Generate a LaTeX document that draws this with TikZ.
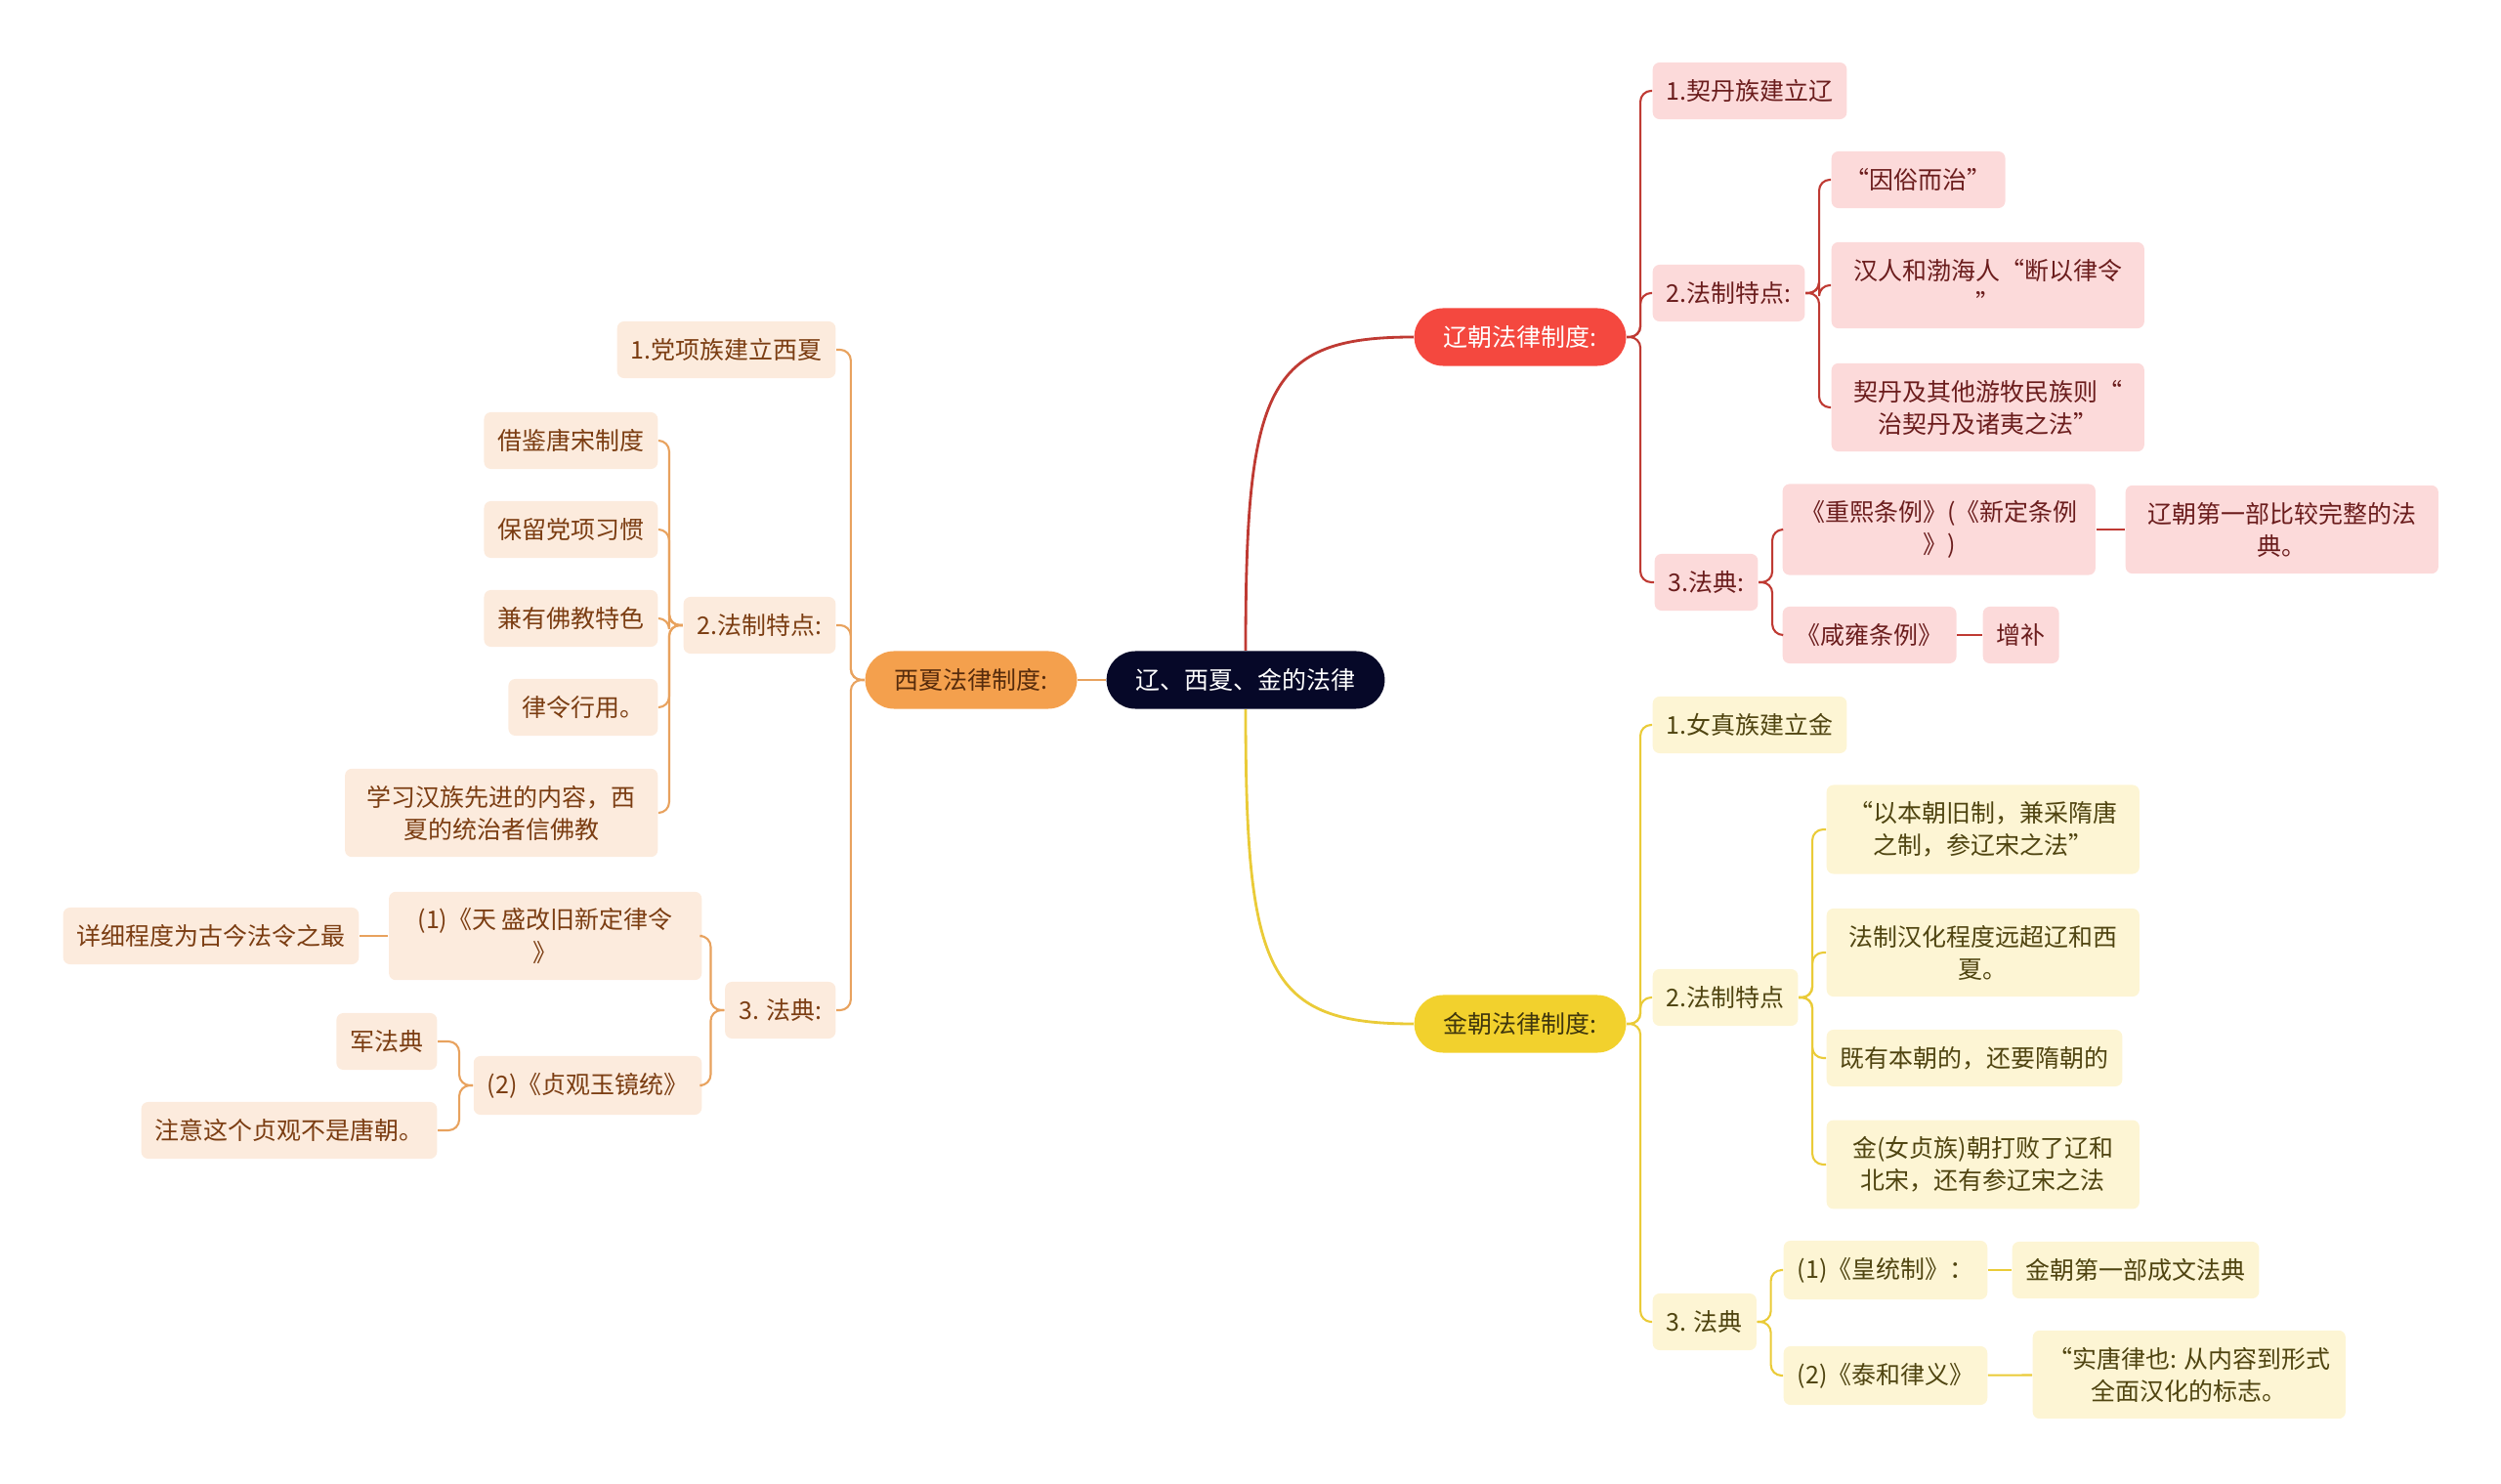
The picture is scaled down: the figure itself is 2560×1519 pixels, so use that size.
\documentclass[tikz,border=0pt]{standalone}
\usepackage{fontspec}
\usepackage{xcolor}
\usepackage{tikz}
\newfontfamily\cjk{Noto Sans CJK SC}
\definecolor{rootfill}{HTML}{060828}
\definecolor{liaomain}{HTML}{F4483F}
\definecolor{liaoline}{HTML}{BF3A33}
\definecolor{liaofill}{HTML}{FCDADA}
\definecolor{liaotext}{HTML}{6B1D1D}
\definecolor{jinmain}{HTML}{F2D12D}
\definecolor{jinline}{HTML}{EACB38}
\definecolor{jinfill}{HTML}{FDF5D4}
\definecolor{jintext}{HTML}{4F4410}
\definecolor{xiamain}{HTML}{F4A04D}
\definecolor{xialine}{HTML}{E8A25E}
\definecolor{xiafill}{HTML}{FCEBDD}
\definecolor{xiatext}{HTML}{7B3D12}

\begin{document}
\begin{tikzpicture}[x=0.01cm,y=-0.01cm,
  box/.style={font=\cjk\fontsize{7.1}{9.4}\selectfont,align=center,rounded corners=0.07cm,inner xsep=0.14cm,inner ysep=0.17cm,minimum height=0.58cm},
  wide/.style={minimum width=3.2cm},
  topic/.style={box,rounded corners=0.295cm,inner xsep=0.3cm,minimum height=0.59cm},
  liaobox/.style={box,fill=liaofill,text=liaotext,anchor=west},
  jinbox/.style={box,fill=jinfill,text=jintext,anchor=west},
  xiabox/.style={box,fill=xiafill,text=xiatext,anchor=east},
  liaowire/.style={draw=liaoline,line width=0.6pt,rounded corners=0.11cm},
  jinwire/.style={draw=jinline,line width=0.6pt,rounded corners=0.11cm},
  xiawire/.style={draw=xialine,line width=0.6pt,rounded corners=0.11cm},
  mainwire/.style={line width=0.8pt,rounded corners=0pt}]
\useasboundingbox (0,0) rectangle (2560,1519);
\def\stub{14}
\node[topic,fill=rootfill,text=white] (root) at (1275,696) {辽、西夏、金的法律};
\node[topic,fill=xiamain,text=xiatext!70!black] (xia) at (994,696) {西夏法律制度:};
\node[topic,fill=liaomain,text=white] (liao) at (1556,345) {辽朝法律制度:};
\node[topic,fill=jinmain,text=jintext!80!black] (jin) at (1556,1048) {金朝法律制度:};
% liao
\node[liaobox] (l1) at (1691,93) {1.契丹族建立辽};
\node[liaobox] (l2) at (1691,300) {2.法制特点:};
\node[liaobox] (l21) at (1874,184) {“因俗而治”};
\node[liaobox,wide] (l22) at (1874,292) {汉人和渤海人“断以律令\\”};
\node[liaobox,wide] (l23) at (1874,417) {契丹及其他游牧民族则“\\治契丹及诸夷之法”};
\node[liaobox] (l3) at (1693,596) {3.法典:};
\node[liaobox,wide] (l31) at (1824,542) {《重熙条例》(《新定条例\\》)};
\node[liaobox,wide] (l311) at (2175,542) {辽朝第一部比较完整的法\\典。};
\node[liaobox] (l32) at (1824,650) {《咸雍条例》};
\node[liaobox] (l321) at (2029,650) {增补};
% jin
\node[jinbox] (j1) at (1691,742) {1.女真族建立金};
\node[jinbox] (j2) at (1691,1021) {2.法制特点};
\node[jinbox,wide] (j21) at (1869,849) {“以本朝旧制，兼采隋唐\\之制，参辽宋之法”};
\node[jinbox,wide] (j22) at (1869,975) {法制汉化程度远超辽和西\\夏。};
\node[jinbox] (j23) at (1869,1083) {既有本朝的，还要隋朝的};
\node[jinbox,wide] (j24) at (1869,1192) {金(女贞族)朝打败了辽和\\北宋，还有参辽宋之法};
\node[jinbox] (j3) at (1691,1353) {3. 法典};
\node[jinbox] (j31) at (1825,1300) {(1)《皇统制》：};
\node[jinbox] (j311) at (2059,1300) {金朝第一部成文法典};
\node[jinbox] (j32) at (1825,1408) {(2)《泰和律义》};
\node[jinbox,wide] (j321) at (2080,1407) {“实唐律也: 从内容到形式\\全面汉化的标志。};
% xixia
\node[xiabox] (x1) at (856,358) {1.党项族建立西夏};
\node[xiabox] (x2) at (856,640) {2.法制特点:};
\node[xiabox] (x21) at (674,451) {借鉴唐宋制度};
\node[xiabox] (x22) at (674,542) {保留党项习惯};
\node[xiabox] (x23) at (674,633) {兼有佛教特色};
\node[xiabox] (x24) at (674,724) {律令行用。};
\node[xiabox,wide] (x25) at (674,832) {学习汉族先进的内容，西\\夏的统治者信佛教};
\node[xiabox] (x3) at (856,1034) {3. 法典:};
\node[xiabox,wide] (x31) at (719,958) {(1)《天 盛改旧新定律令\\》};
\node[xiabox] (x311) at (368,958) {详细程度为古今法令之最};
\node[xiabox] (x32) at (719,1111) {(2)《贞观玉镜统》};
\node[xiabox] (x321) at (448,1066) {军法典};
\node[xiabox] (x322) at (448,1157) {注意这个贞观不是唐朝。};
% wires
\draw[xiawire,mainwire] (root.west) -- (xia.east);
\draw[liaowire,mainwire] (root.north) .. controls +(0,-270) and +(-150,0) .. (liao.west);
\draw[jinwire,mainwire] (root.south) .. controls +(0,270) and +(-150,0) .. (jin.west);
\foreach \c in {l1,l2,l3} \draw[liaowire] (liao.east) -- ++(\stub,0) |- (\c.west);
\foreach \c in {l21,l22,l23} \draw[liaowire] (l2.east) -- ++(\stub,0) |- (\c.west);
\foreach \c in {l31,l32} \draw[liaowire] (l3.east) -- ++(\stub,0) |- (\c.west);
\draw[liaowire] (l31) -- (l311);
\draw[liaowire] (l32) -- (l321);
\foreach \c in {j1,j2,j3} \draw[jinwire] (jin.east) -- ++(\stub,0) |- (\c.west);
\foreach \c in {j21,j22,j23,j24} \draw[jinwire] (j2.east) -- ++(\stub,0) |- (\c.west);
\foreach \c in {j31,j32} \draw[jinwire] (j3.east) -- ++(\stub,0) |- (\c.west);
\draw[jinwire] (j31) -- (j311);
\draw[jinwire] (j32) -- (j321);
\foreach \c in {x1,x2,x3} \draw[xiawire] (xia.west) -- ++(-\stub,0) |- (\c.east);
\foreach \c in {x21,x22,x23,x24,x25} \draw[xiawire] (x2.west) -- ++(-\stub,0) |- (\c.east);
\foreach \c in {x31,x32} \draw[xiawire] (x3.west) -- ++(-\stub,0) |- (\c.east);
\draw[xiawire] (x31) -- (x311);
\foreach \c in {x321,x322} \draw[xiawire] (x32.west) -- ++(-\stub,0) |- (\c.east);
\end{tikzpicture}
\end{document}
